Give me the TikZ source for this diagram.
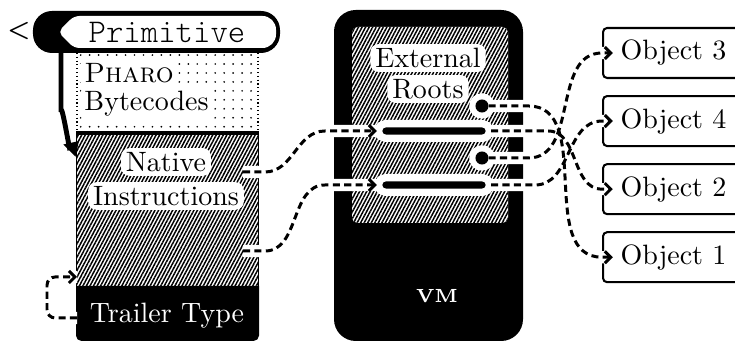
\documentclass[tikz,border=0pt]{standalone}
\usepackage{fontspec}
\newfontfamily\codefont{Latin Modern Mono Light}
\usetikzlibrary{arrows.meta,patterns.meta,positioning}

\tikzset{
  hatch/.style={preaction={fill=white}, pattern={Lines[angle=62,distance=1.15pt,line width=0.55pt]}},
  specks/.style={pattern={Dots[distance=3.3pt,radius=0.35pt]}},
  tag/.style={fill=white, rounded corners=3pt, inner xsep=1.8pt, inner ysep=1.5pt},
  bar/.style={rectangle, fill=black, rounded corners=1.3pt, minimum width=38pt, minimum height=2.6pt,
    inner sep=0pt, outer sep=2pt, preaction={draw=white, line width=5.5pt}},
  root/.style={circle, fill=black, minimum size=4.8pt, inner sep=0pt, outer sep=0pt,
    preaction={draw=white, line width=4.5pt}},
  object/.style={draw, rounded corners=1.5pt, line width=0.75pt, anchor=west, minimum height=18.4pt,
    text width=60pt, inner xsep=6.5pt, align=left},
  link/.style={line width=1.1pt, dash pattern=on 2.6pt off 1.6pt, -{Straight Barb[length=2.2pt,width=4.4pt]}},
  halo/.style={white, line width=4.5pt},
}

% every pointer, drawn once as a white halo and once dashed on top
\newcommand\pointers[1]{%
  \draw[#1] (n1) -- ++(22,0) to[out=0,in=180] ++(60,-41) -- (bar1);
  \draw[#1] (n2) -- ++(22,0) to[out=0,in=180] ++(60,-66) -- (bar2);
  \draw[#1, rounded corners=3pt] (tt) -- ++(-30,0) |- (nb);
  \draw[#1] (dot1.east) -- ++(40,0) to[out=0,in=180] (obj1.west) -- ([xshift=4pt]obj1.west);
  \draw[#1] (bar1.east) -- ++(57,0) to[out=0,in=180] (obj2.west) -- ([xshift=4pt]obj2.west);
  \draw[#1] (dot2.east) -- ++(40,0) to[out=0,in=180] (obj3.west) -- ([xshift=4pt]obj3.west);
  \draw[#1] (bar2.east) -- ++(44,0) to[out=0,in=180] (obj4.west) -- ([xshift=4pt]obj4.west);
}

\begin{document}
\begin{tikzpicture}[x=0.368pt, y=-0.368pt, font=\fontsize{10.3}{12}\selectfont]
  \clip (0,0) rectangle (735,342);

  % compiled method: primitive header, bytecodes, native code, trailer
  \fill[rounded corners=7pt] (33,11) rectangle (280,53);
  \fill[white, rounded corners=2pt] (58,32) -- (74,16) [rounded corners=5pt] -- (276,16) -- (276,48)
    [rounded corners=2pt] -- (74,48) -- cycle;
  \node[font=\codefont\fontsize{12.2}{14}\selectfont] (prim) at (167,32) {Primitive};
  \node[font=\fontsize{9.5}{10}\selectfont\bfseries] (back) at (19,31) {<};

  \path[specks] (77,53) rectangle (258,132);
  \draw[densely dotted, line width=0.4pt] (77,53) -- (77,132) (258,53) -- (258,132);
  \path[hatch] (77,134) rectangle (258,288);
  \draw[line width=0.6pt] (76.5,133) -- (76.5,290) (258.5,133) -- (258.5,290);
  \draw[line width=1.5pt] (76,133) -- (259,133);
  \fill (76,286) [rounded corners=2pt] -- (76,341) -- (259,341) [sharp corners] -- (259,286) -- cycle;

  \coordinate (hook) at (61,50);
  \coordinate (drop) at (79,141);
  \draw[line width=1.8pt, -{Triangle[length=5pt,width=6pt]}] (hook) -- ++(0,62) to[out=90,in=225] (drop);

  \node[tag, anchor=west] (pharo) at (79,73) {\textsc{Pharo}};
  \node[tag, anchor=west] (bytecodes) at (79,104) {Bytecodes};
  \node[tag] (native) at (166,162) {Native};
  \node[tag] (instr) at (166,196) {Instructions};
  \node[text=white] (trailer) at (167,316) {Trailer Type};

  \coordinate (n1) at (243,172);
  \coordinate (n2) at (243,251);
  \coordinate (tt) at (77,318);
  \coordinate (nb) at (77,277);

  % the vm with its table of external roots
  \fill[rounded corners=8pt] (334,10) rectangle (523,341);
  \path[hatch, rounded corners=2pt] (352,27) rectangle (508,223);
  \node[tag] (external) at (428,58) {External};
  \node[tag] (roots) at (428,89) {Roots};
  \node[text=white, font=\fontsize{7}{8}\selectfont\bfseries] (vm) at (437,296) {VM};

  \node[root] (dot1) at (482,106) {};
  \node[bar] (bar1) at (434,131) {};
  \node[root] (dot2) at (482,158) {};
  \node[bar] (bar2) at (434,185) {};

  % heap objects
  \node[object] (obj3) at (602,53) {Object 3};
  \node[object, below=5.9pt of obj3] (obj4) {Object 4};
  \node[object, below=5.9pt of obj4] (obj2) {Object 2};
  \node[object, below=5.9pt of obj2] (obj1) {Object 1};

  \pointers{halo}
  \pointers{link}
\end{tikzpicture}
\end{document}
